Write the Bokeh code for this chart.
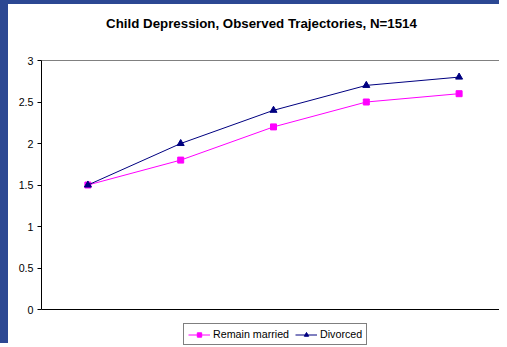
from bokeh.plotting import figure
from bokeh.models import (Range1d, FixedTicker, NumeralTickFormatter, Legend, LegendItem,
                          Label)
from bokeh.embed import file_html
from bokeh.resources import INLINE

# ---- data ----
waves = [1, 2, 3, 4, 5]
remain_married = [1.5, 1.8, 2.2, 2.5, 2.6]
divorced = [1.5, 2.0, 2.4, 2.7, 2.8]
y_ticks = [0, 0.5, 1, 1.5, 2, 2.5, 3]
series_names = ["Remain married", "Divorced"]
chart_title = "Child Depression, Observed Trajectories, N=1514"

FONT = "Liberation Sans"
BLUE_BG = "#2c4893"

# ---- layout geometry (page pixels) ----
BORDER_L, BORDER_T = 8, 4
PAGE_W, PAGE_H = 507, 347
FRAME_L = 41                     # plot area left (y axis)
AREA_R, AREA_T, AREA_B = 505, 60, 309   # plot area right/top/bottom
X0, X1 = 0.5, 5.5
Y0, Y1 = 0.0, 3.0
px_x = (AREA_R - FRAME_L) / (X1 - X0)
px_y = (AREA_B - AREA_T) / (Y1 - Y0)
x_range = Range1d(X0, X0 + (PAGE_W - FRAME_L) / px_x)
y_range = Range1d(Y0 - (PAGE_H - AREA_B) / px_y, Y1 + (AREA_T - BORDER_T) / px_y)


def to_x(px):
    return X0 + (px - FRAME_L) / px_x


def to_y(py):
    return Y0 + (AREA_B - py) / px_y


p = figure(width=PAGE_W - BORDER_L, height=PAGE_H - BORDER_T,
           output_backend="svg", toolbar_location=None,
           x_range=x_range, y_range=y_range, x_axis_location=None,
           min_border_left=FRAME_L - BORDER_L, min_border_right=0,
           min_border_top=0, min_border_bottom=0,
           background_fill_color="white", border_fill_color="white")
p.styles = {"border-left": f"{BORDER_L}px solid {BLUE_BG}",
            "border-top": f"{BORDER_T}px solid {BLUE_BG}"}
p.outline_line_color = None
p.xgrid.visible = False
p.ygrid.visible = False

# y axis
p.yaxis.bounds = (Y0, Y1)
p.yaxis.ticker = FixedTicker(ticks=y_ticks)
p.yaxis.formatter = NumeralTickFormatter(format="0.[0]")
p.yaxis.major_label_text_font = FONT
p.yaxis.major_label_text_font_size = "10.7px"
p.yaxis.major_label_text_color = "black"
p.yaxis.major_tick_out = 4
p.yaxis.major_tick_in = 0
p.yaxis.minor_tick_out = 0
p.yaxis.minor_tick_in = 0
p.yaxis.major_label_standoff = 4
p.yaxis.axis_line_color = "black"
p.yaxis.major_tick_line_color = "black"

# plot-area border (grey) and category axis line (black)
p.quad(left=[X0], right=[X1], bottom=[Y0], top=[Y1], fill_color=None,
       line_color="#808080", line_width=1)
p.segment(x0=[X0], y0=[Y0], x1=[X1], y1=[Y0], line_color="black", line_width=1)

l1 = p.line(waves, remain_married, line_color="#ff00ff", line_width=1)
s1 = p.scatter(waves, remain_married, marker="square", size=6,
               fill_color="#ff00ff", line_color="#ff00ff")
l2 = p.line(waves, divorced, line_color="#000080", line_width=1)
s2 = p.scatter(waves, divorced, marker="triangle", size=7,
               fill_color="#000080", line_color="#000080")

# title
p.add_layout(Label(x=to_x(261), y=to_y(23), text=chart_title,
                   text_align="center", text_baseline="middle",
                   text_font=FONT, text_font_size="13.3px", text_font_style="bold",
                   text_color="black"))

legend = Legend(items=[LegendItem(label=series_names[0], renderers=[l1, s1]),
                       LegendItem(label=series_names[1], renderers=[l2, s2])],
                orientation="horizontal", location=(183 - FRAME_L, PAGE_H - 345),
                padding=4, spacing=6, margin=0, glyph_width=22, glyph_height=11,
                label_standoff=3, label_text_font=FONT, label_text_font_size="10.7px",
                label_text_color="black", border_line_color="black", border_line_width=1,
                background_fill_color="white", background_fill_alpha=1)
p.add_layout(legend, "center")

open("out.html", "w").write(file_html(p, INLINE))
